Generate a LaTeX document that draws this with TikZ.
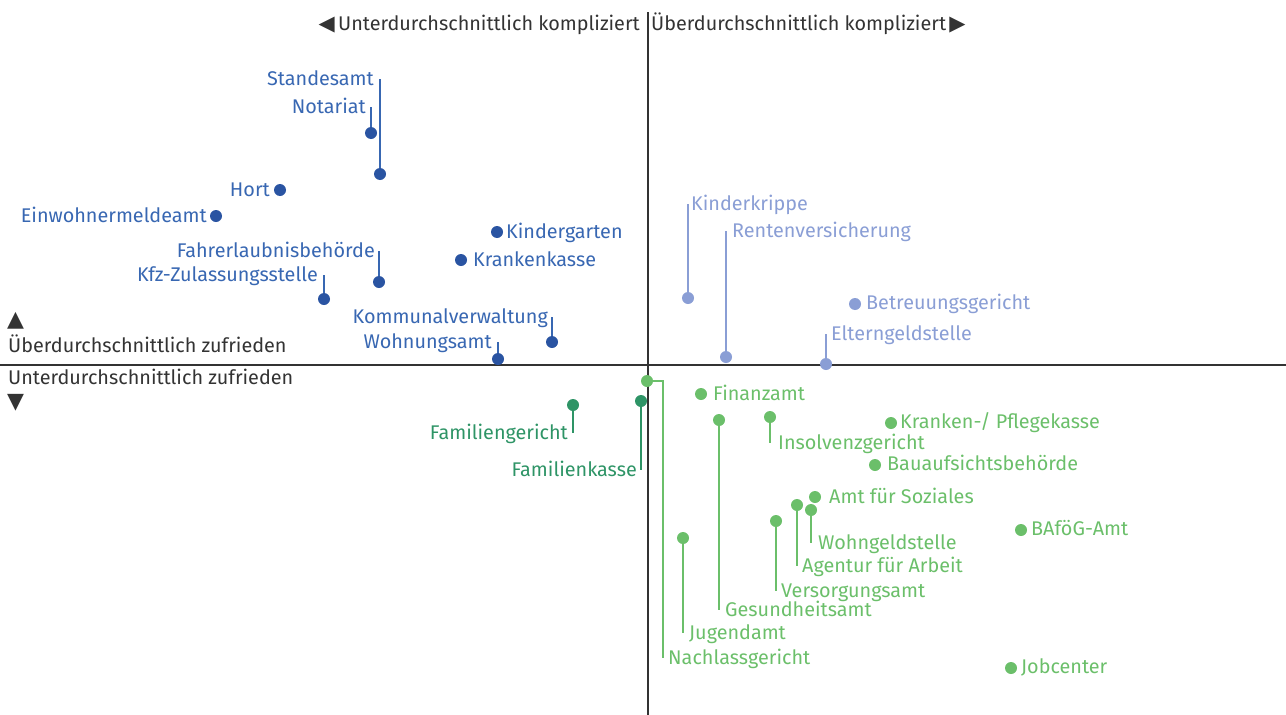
\documentclass[tikz,border=0pt]{standalone}
\usepackage{fontspec}
\setmainfont{Fira Sans}
\newfontfamily\symfont{DejaVu Sans}
\definecolor{axisgray}{HTML}{333333}
\definecolor{cblue}{HTML}{3867B2}
\definecolor{cbluedot}{HTML}{2A54A2}
\definecolor{clblue}{HTML}{8A9ED5}
\definecolor{cgreen}{HTML}{2E9466}
\definecolor{clgreen}{HTML}{6BBF6A}
\begin{document}
\begin{tikzpicture}[x=1pt, y=-1pt]
	\tikzstyle{axis} = [draw=axisgray, line width=2.4pt];
	\tikzstyle{dot} = [circle, inner sep=0pt, minimum size=12pt];
	\tikzstyle{lbl} = [inner sep=0pt, text height=13.5pt, text depth=0pt, font={\fontsize{19.8}{23}\selectfont}];
	\tikzstyle{arr} = [inner sep=0pt, font={\symfont\fontsize{22}{24}\selectfont}, text=axisgray];
	\tikzstyle{lead} = [line width=1.3pt];

	\tikzstyle{bdot} = [dot, fill=cbluedot];
	\tikzstyle{blbl} = [lbl, text=cblue];
	\tikzstyle{lbdot} = [dot, fill=clblue];
	\tikzstyle{lblbl} = [lbl, text=clblue];
	\tikzstyle{gdot} = [dot, fill=cgreen];
	\tikzstyle{glbl} = [lbl, text=cgreen];
	\tikzstyle{lgdot} = [dot, fill=clgreen];
	\tikzstyle{lglbl} = [lbl, text=clgreen];

	\useasboundingbox (0,0) rectangle (1286,715);

	% axes
	\coordinate (top) at (648,12);
	\coordinate (bottom) at (648,715);
	\coordinate (left) at (0,365);
	\coordinate (right) at (1286,365);
	\draw[axis] (left) -- (right);
	\draw[axis] (top) -- (bottom);

	\node[lbl, anchor=east, text=axisgray] (xneg) at (640,24) {{\symfont\fontsize{21}{24}\selectfont ◀}\,Unterdurchschnittlich kompliziert};
	\node[lbl, anchor=west, text=axisgray] (xpos) at (651,24) {Überdurchschnittlich kompliziert\,{\symfont\fontsize{21}{24}\selectfont ▶}};
	\node[arr, anchor=west] (yposarr) at (7,321) {▲};
	\node[lbl, anchor=west, text=axisgray] (ypos) at (8,346) {Überdurchschnittlich zufrieden};
	\node[lbl, anchor=west, text=axisgray] (yneg) at (8,378) {Unterdurchschnittlich zufrieden};
	\node[arr, anchor=west] (ynegarr) at (7,403) {▼};

	% upper left
	\node[bdot] (dstandes) at (380,174) {};
	\node[blbl, anchor=east] (lstandes) at (374,79) {Standesamt};
	\node[bdot] (dnotar) at (371,133) {};
	\node[blbl, anchor=east] (lnotar) at (366,107) {Notariat};
	\node[bdot] (dhort) at (280,190) {};
	\node[blbl, anchor=east] (lhort) at (270,190) {Hort};
	\node[bdot] (deinw) at (216,216) {};
	\node[blbl, anchor=east] (leinw) at (207,216) {Einwohnermeldeamt};
	\node[bdot] (dkiga) at (497,232) {};
	\node[blbl, anchor=west] (lkiga) at (506,232) {Kindergarten};
	\node[bdot] (dkrank) at (461,260) {};
	\node[blbl, anchor=west] (lkrank) at (473,260) {Krankenkasse};
	\node[bdot] (dfahr) at (379,282) {};
	\node[blbl, anchor=east] (lfahr) at (375,251) {Fahrerlaubnisbehörde};
	\node[bdot] (dkfz) at (324,299) {};
	\node[blbl, anchor=east] (lkfz) at (318,275) {Kfz-Zulassungsstelle};
	\node[bdot] (dkomm) at (552,342) {};
	\node[blbl, anchor=east] (lkomm) at (548,317) {Kommunalverwaltung};
	\node[bdot] (dwohn) at (498,359) {};
	\node[blbl, anchor=east] (lwohn) at (492,342) {Wohnungsamt};

	\draw[lead, cblue] (dstandes) -- (dstandes |- lstandes);
	\draw[lead, cblue] (dnotar) -- (dnotar |- lnotar);
	\draw[lead, cblue] (dfahr) -- (dfahr |- lfahr);
	\draw[lead, cblue] (dkfz) -- (dkfz |- lkfz);
	\draw[lead, cblue] (dkomm) -- (dkomm |- lkomm);
	\draw[lead, cblue] (dwohn) -- (dwohn |- lwohn);

	% upper right
	\node[lbdot] (dkrip) at (688,298) {};
	\node[lblbl, anchor=west] (lkrip) at (691,204) {Kinderkrippe};
	\node[lbdot] (drente) at (726,357) {};
	\node[lblbl, anchor=west] (lrente) at (732,231) {Rentenversicherung};
	\node[lbdot] (dbetr) at (855,304) {};
	\node[lblbl, anchor=west] (lbetr) at (866,303) {Betreuungsgericht};
	\node[lbdot] (deltern) at (826,364) {};
	\node[lblbl, anchor=west] (leltern) at (831,334) {Elterngeldstelle};

	\draw[lead, clblue] (dkrip) -- (dkrip |- lkrip);
	\draw[lead, clblue] (drente) -- (drente |- lrente);
	\draw[lead, clblue] (deltern) -- (deltern |- leltern);

	% lower left
	\node[gdot] (dfamg) at (573,405) {};
	\node[glbl, anchor=east] (lfamg) at (568,433) {Familiengericht};
	\node[gdot] (dfamk) at (641,401) {};
	\node[glbl, anchor=east] (lfamk) at (637,470) {Familienkasse};

	\draw[lead, cgreen] (dfamg) -- (dfamg |- lfamg);
	\draw[lead, cgreen] (dfamk) -- (dfamk |- lfamk);

	% lower right
	\node[lgdot] (dnachl) at (647,381) {};
	\node[lglbl, anchor=west] (lnachl) at (668,658) {Nachlassgericht};
	\node[lgdot] (dfin) at (701,394) {};
	\node[lglbl, anchor=west] (lfin) at (713,394) {Finanzamt};
	\node[lgdot] (dgesund) at (719,420) {};
	\node[lglbl, anchor=west] (lgesund) at (725,610) {Gesundheitsamt};
	\node[lgdot] (dinsol) at (770,417) {};
	\node[lglbl, anchor=west] (linsol) at (778,443) {Insolvenzgericht};
	\node[lgdot] (djugend) at (683,538) {};
	\node[lglbl, anchor=west] (ljugend) at (689,633) {Jugendamt};
	\node[lgdot] (dpflege) at (891,423) {};
	\node[lglbl, anchor=west] (lpflege) at (900,422) {Kranken-/ Pflegekasse};
	\node[lgdot] (dbau) at (875,465) {};
	\node[lglbl, anchor=west] (lbau) at (887,464) {Bauaufsichtsbehörde};
	\node[lgdot] (dsozial) at (815,497) {};
	\node[lglbl, anchor=west] (lsozial) at (829,497) {Amt für Soziales};
	\node[lgdot] (dagentur) at (797,505) {};
	\node[lglbl, anchor=west] (lagentur) at (802,566) {Agentur für Arbeit};
	\node[lgdot] (dwgeld) at (811,510) {};
	\node[lglbl, anchor=west] (lwgeld) at (818,543) {Wohngeldstelle};
	\node[lgdot] (dversorg) at (776,521) {};
	\node[lglbl, anchor=west] (lversorg) at (781,591) {Versorgungsamt};
	\node[lgdot] (dbafoeg) at (1021,530) {};
	\node[lglbl, anchor=west] (lbafoeg) at (1031,529) {BAföG-Amt};
	\node[lgdot] (djob) at (1011,668) {};
	\node[lglbl, anchor=west] (ljob) at (1021,667) {Jobcenter};

	\draw[lead, clgreen] (dnachl) -| ([xshift=-5pt]lnachl.west);
	\draw[lead, clgreen] (dgesund) -- (dgesund |- lgesund);
	\draw[lead, clgreen] (dinsol) -- (dinsol |- linsol);
	\draw[lead, clgreen] (djugend) -- (djugend |- ljugend);
	\draw[lead, clgreen] (dagentur) -- (dagentur |- lagentur);
	\draw[lead, clgreen] (dwgeld) -- (dwgeld |- lwgeld);
	\draw[lead, clgreen] (dversorg) -- (dversorg |- lversorg);
\end{tikzpicture}
\end{document}
